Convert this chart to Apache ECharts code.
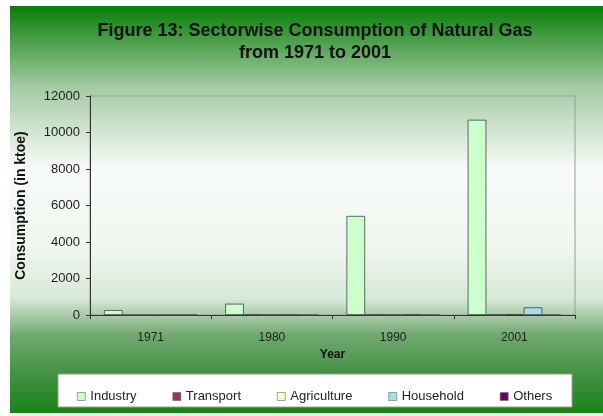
<!DOCTYPE html>
<html>
<head>
<meta charset="utf-8">
<script src="https://cdn.jsdelivr.net/npm/echarts@6/dist/echarts.min.js"></script>
<style>
  html, body { margin: 0; padding: 0; background: #fff; }
  #chart { width: 603px; height: 416px; }
</style>
</head>
<body>
<div id="chart"></div>
<script>
// data (ktoe)
const years = ["1971", "1980", "1990", "2001"];
const industry = [270, 620, 5430, 10700];
const transport = [0, 30, 25, 20];
const agriculture = [0, 10, 10, 40];
const household = [0, 15, 30, 420];
const others = [0, 0, 0, 0];
const yTicks = [0, 2000, 4000, 6000, 8000, 10000, 12000];

const names = ["Industry", "Transport", "Agriculture", "Household", "Others"];
const colors = ["#ccffcc", "#993366", "#ffffcc", "#a9dcef", "#660066"];
const values = [industry, transport, agriculture, household, others];

const chart = echarts.init(document.getElementById("chart"), null, { renderer: "canvas" });

// ---- 背景 ----
const bgGradient = new echarts.graphic.LinearGradient(0, 0, 0, 1, [
  { offset: 0, color: "#077e07" },
  { offset: 0.2, color: "#a4cba4" },
  { offset: 0.4, color: "#f8fbf8" },
  { offset: 0.6, color: "#f0f6f0" },
  { offset: 0.72, color: "#d6e8d6" },
  { offset: 0.81, color: "#70a870" },
  { offset: 0.9, color: "#449344" },
  { offset: 1, color: "#1a821a" },
]);

const option = {
  animation: false,
  color: colors,
  textStyle: { fontFamily: "Arial, 'Liberation Sans', sans-serif" },
  graphic: [
    { type: "rect", z: -10, silent: true,
      shape: { x: 10, y: 6, width: 593, height: 407 },
      style: { fill: bgGradient } },
    { type: "rect", z: -5, silent: true,
      shape: { x: 58, y: 374, width: 514, height: 33 },
      style: { fill: "#ffffff", stroke: "#9a9a9a", lineWidth: 1 } },
  ],
  title: {
    text: "Figure 13: Sectorwise Consumption of Natural Gas\nfrom 1971 to 2001",
    left: 310, top: 15, textAlign: "center",
    textStyle: { fontSize: 18, fontWeight: "bold", color: "#111", lineHeight: 22 },
  },
  legend: {
    data: names,
    left: 72, top: 385,
    itemWidth: 8, itemHeight: 8, itemGap: 36,
    icon: "rect",
    itemStyle: { borderColor: "#666", borderWidth: 0.6 },
    textStyle: { fontSize: 13, color: "#222" },
  },
  grid: {
    left: 90, right: 28, top: 96, bottom: 101,
    show: true, borderColor: "#9a9a9a", borderWidth: 1,
    backgroundColor: "transparent",
  },
  xAxis: {
    type: "category",
    data: years,
    name: "Year", nameLocation: "middle", nameGap: 28,
    nameTextStyle: { fontWeight: "bold", fontSize: 12, color: "#111" },
    axisLine: { lineStyle: { color: "#333" } },
    axisTick: { show: true, length: 4, lineStyle: { color: "#333" } },
    axisLabel: { fontSize: 12, color: "#222", margin: 17 },
  },
  yAxis: {
    type: "value",
    min: yTicks[0], max: yTicks[yTicks.length - 1], interval: 2000,
    name: "Consumption (in ktoe)", nameLocation: "middle", nameGap: 62,
    nameTextStyle: { fontWeight: "bold", fontSize: 14, color: "#111" },
    axisLine: { show: true, lineStyle: { color: "#333" } },
    axisTick: { show: true, length: 4, lineStyle: { color: "#333" } },
    axisLabel: { fontSize: 13, color: "#222", margin: 10, formatter: v => String(v) },
    splitLine: { show: false },
  },
  series: names.map((n, i) => ({
    name: n,
    type: "bar",
    data: values[i],
    barGap: "0%",
    barCategoryGap: "23%",
    itemStyle: { color: colors[i], borderColor: "#444", borderWidth: 0.8 },
  })),
};

chart.setOption(option);
</script>
</body>
</html>
